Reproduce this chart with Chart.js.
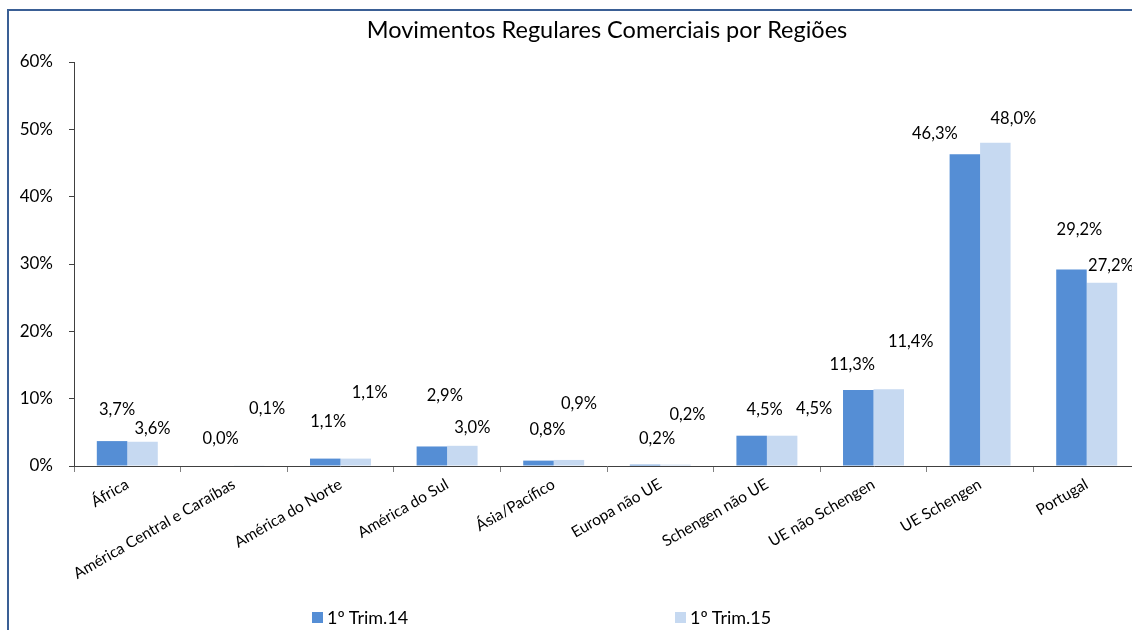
<!DOCTYPE html>
<html>
<head>
<meta charset="utf-8">
<script src="https://cdn.jsdelivr.net/npm/chart.js@4.4.1/dist/chart.umd.min.js"></script>
<style>
  html, body { margin: 0; padding: 0; background: #fff; width: 1132px; height: 630px; overflow: hidden; }
  .frame { position: absolute; left: 7px; top: 9px; width: 1200px; height: 700px;
           border-left: 2px solid #3a5f95; border-top: 2px solid #3a5f95; }
  #regioes { position: absolute; left: 0; top: 0; }
  #regioes-legend-container { position: absolute; left: 312px; top: 608px; }
</style>
</head>
<body>
<div class="frame"></div>
<canvas id="regioes"></canvas>
<div id="regioes-legend-container"></div>
<script>
const regioes = ['África', 'América Central e Caraíbas', 'América do Norte', 'América do Sul', 'Ásia/Pacífico',
  'Europa não UE', 'Schengen não UE', 'UE não Schengen', 'UE Schengen', 'Portugal'];
const trim14 = [3.7, 0.0, 1.1, 2.9, 0.8, 0.2, 4.5, 11.3, 46.3, 29.2];
const trim15 = [3.6, 0.1, 1.1, 3.0, 0.9, 0.2, 4.5, 11.4, 48.0, 27.2];
const yTicks = [0, 10, 20, 30, 40, 50, 60];

// label shifts from bar top (Excel had them dragged around by hand)
const shift14 = [[5, -31], [2, -27], [3, -37], [13, -51], [9, -31], [12, -26], [13, -26], [-6, -25], [-30, -21], [8, -40]];
const shift15 = [[10, -13], [18, -57], [14, -66], [10, -18], [10, -56], [12, -50], [32, -27], [22, -48], [18, -24], [9, -17]];

const FONT = 'Lato, "Open Sans", sans-serif';

const fmt = v => v.toFixed(1).replace('.', ',') + '%';

const valueLabels = {
  id: 'valueLabels',
  afterDatasetsDraw(chart) {
    const ctx = chart.ctx;
    const shifts = [shift14, shift15];
    ctx.save();
    ctx.font = '16.5px ' + FONT;
    ctx.fillStyle = '#000';
    ctx.textAlign = 'center';
    ctx.textBaseline = 'middle';
    chart.data.datasets.forEach((ds, i) => {
      chart.getDatasetMeta(i).data.forEach((bar, j) => {
        const s = shifts[i][j];
        ctx.fillText(fmt(ds.data[j]), bar.x + s[0], bar.y + s[1]);
      });
    });
    ctx.restore();
  }
};

// title centred over the plot area, like Excel does
const areaTitle = {
  id: 'areaTitle',
  afterDraw(chart) {
    const ctx = chart.ctx;
    const a = chart.chartArea;
    ctx.save();
    ctx.font = '23.5px ' + FONT;
    ctx.fillStyle = '#000';
    ctx.textAlign = 'center';
    ctx.textBaseline = 'middle';
    ctx.fillText('Movimentos Regulares Comerciais por Regiões', (a.left + a.right) / 2, 30);
    ctx.restore();
  }
};

const htmlLegend = {
  id: 'htmlLegend',
  afterUpdate(chart, args, options) {
    const box = document.getElementById(options.containerID);
    if (!box) return;
    box.innerHTML = '';
    const ul = document.createElement('ul');
    ul.style.display = 'flex';
    ul.style.margin = 0;
    ul.style.padding = 0;
    ul.style.listStyle = 'none';
    chart.data.datasets.forEach(ds => {
      const li = document.createElement('li');
      li.style.display = 'flex';
      li.style.alignItems = 'center';
      li.style.width = '363px';

      const boxSpan = document.createElement('span');
      boxSpan.style.background = ds.backgroundColor;
      boxSpan.style.display = 'inline-block';
      boxSpan.style.width = '11px';
      boxSpan.style.height = '11px';
      boxSpan.style.marginRight = '4px';

      const text = document.createElement('span');
      text.style.font = '18px ' + FONT;
      text.style.color = '#000';
      text.style.lineHeight = '18px';
      text.textContent = ds.label;

      li.appendChild(boxSpan);
      li.appendChild(text);
      ul.appendChild(li);
    });
    box.appendChild(ul);
  }
};

const cv = document.getElementById('regioes');
cv.width = 1150;
cv.height = 630;

new Chart(cv, {
  type: 'bar',
  data: {
    labels: regioes,
    datasets: [
      { label: '1º Trim.14', data: trim14, backgroundColor: '#558ed5' },
      { label: '1º Trim.15', data: trim15, backgroundColor: '#c6d9f1' }
    ]
  },
  options: {
    responsive: false,
    animation: false,
    layout: { padding: { top: 62, right: 10, bottom: 0, left: 0 } },
    datasets: { bar: { categoryPercentage: 0.572, barPercentage: 1.0 } },
    plugins: {
      legend: { display: false },
      tooltip: { enabled: false },
      htmlLegend: { containerID: 'regioes-legend-container' }
    },
    scales: {
      x: {
        grid: { drawOnChartArea: false, tickLength: 6, color: '#808080' },
        border: { color: '#404040' },
        ticks: {
          autoSkip: false, maxRotation: 30, minRotation: 30, padding: 3,
          color: '#000', font: { family: FONT, size: 15.5 }
        },
        afterFit: s => { s.height = 164; }
      },
      y: {
        min: 0, max: 60,
        afterBuildTicks: s => { s.ticks = yTicks.map(v => ({ value: v })); },
        grid: { drawOnChartArea: false, tickLength: 5, color: '#404040' },
        border: { color: '#404040' },
        ticks: {
          padding: 16, color: '#000', font: { family: FONT, size: 17 },
          callback: v => v + '%'
        },
        afterFit: s => { s.width = 74; }
      }
    }
  },
  plugins: [valueLabels, areaTitle, htmlLegend]
});
</script>
</body>
</html>
